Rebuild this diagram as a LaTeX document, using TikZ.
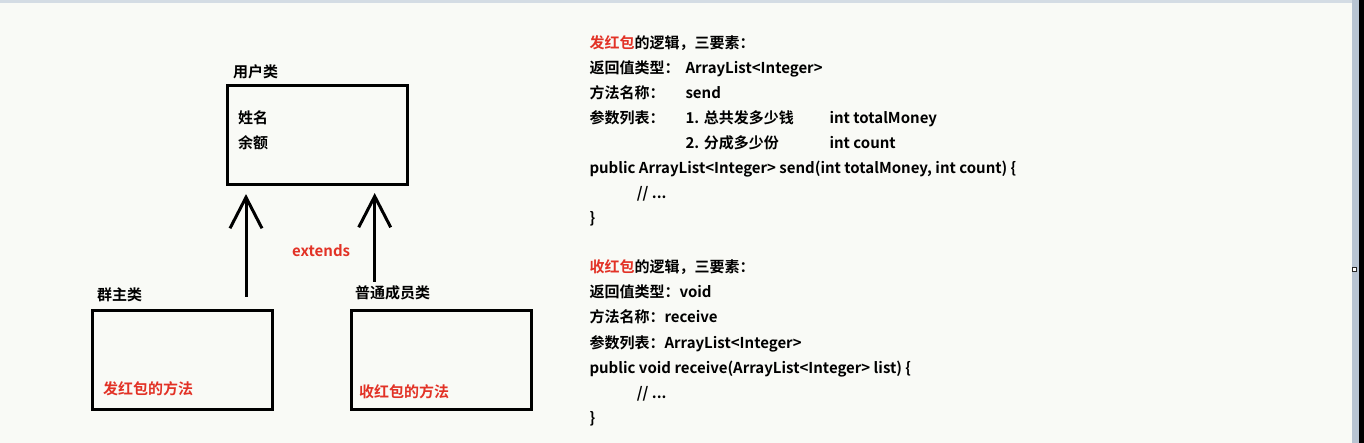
\documentclass[tikz,border=0pt]{standalone}
\usepackage{fontspec}
\setmainfont{Noto Sans CJK SC}[BoldFont={Noto Sans CJK SC Bold}]
\usetikzlibrary{arrows.meta}
\definecolor{bg}{RGB}{249,250,246}
\definecolor{hongbao}{RGB}{226,50,38}
\definecolor{chrome}{RGB}{184,196,210}

\begin{document}
\begin{tikzpicture}[x=1pt,y=-1pt,
  every node/.style={font=\fontsize{15}{18}\selectfont\bfseries, inner sep=0pt},
  txt/.style={anchor=base west},
  hb/.style={txt, text=hongbao},
  classbox/.style={draw=black, line width=3pt, minimum width=180pt, minimum height=98.5pt},
  inherit/.style={line width=3pt, -{Straight Barb[length=31pt,width=32pt,line width=3pt]}}]
\useasboundingbox (0,0) rectangle (1364,443);
\fill[bg] (0,0) rectangle (1364,443);
\fill[chrome!60] (0,0) rectangle (1352,3);
\fill[chrome] (1352,0) rectangle (1359,443);
\fill[black] (1359,0) rectangle (1364,443);
\draw[gray!30!black, fill=white, line width=0.8pt] (1352.5,267) rectangle (1356.5,271);

% class boxes
\node[classbox] (user) at (317,134.8) {};
\node[classbox] (owner) at (182,359.8) {};
\node[classbox] (member) at (441,359.8) {};
\node[txt] (userTitle) at (233,77.2) {用户类};
\node[txt] (userName) at (238,123.2) {姓名};
\node[txt] (userBalance) at (238,148.2) {余额};
\node[txt] (ownerTitle) at (97,300.5) {群主类};
\node[txt] (memberTitle) at (355,298.2) {普通成员类};
\node[hb] (ownerMethod) at (103,394.8) {发红包的方法};
\node[hb] (memberMethod) at (359,397.2) {收红包的方法};

% inheritance arrows
\coordinate (ownerTail) at (246,297);
\coordinate (memberTail) at (374.7,281.7);
\draw[inherit, shorten >=8.5pt] (ownerTail) -- (ownerTail |- user.south);
\draw[inherit, shorten >=7.5pt] (memberTail) -- (memberTail |- user.south);
\node[hb] (extends) at (292,257) {extends};

% send logic
\node[txt] (sendHead) at (589.3,49) {\textcolor{hongbao}{发红包}的逻辑，三要素：};
\node[txt] (sendRetKey) at (589.3,74) {返回值类型：};
\node[txt] (sendRet) at (685.3,74) {ArrayList<Integer>};
\node[txt] (sendNameKey) at (589.3,99) {方法名称：};
\node[txt] (sendName) at (685.3,99) {send};
\node[txt] (sendArgKey) at (589.3,124) {参数列表：};
\node[txt] (sendArgA) at (685.3,124) {1. 总共发多少钱};
\node[txt] (sendArgAType) at (829.3,124) {int totalMoney};
\node[txt] (sendArgB) at (685.3,149) {2. 分成多少份};
\node[txt] (sendArgBType) at (829.3,149) {int count};
\node[txt] (sendSig) at (589.3,174) {public ArrayList<Integer> send(int totalMoney, int count) \{};
\node[txt] (sendBody) at (636.7,199) {// ...};
\node[txt] (sendEnd) at (589.3,224) {\}};

% receive logic
\node[txt] (recvHead) at (589.3,273) {\textcolor{hongbao}{收红包}的逻辑，三要素：};
\node[txt] (recvRet) at (589.3,298) {返回值类型：void};
\node[txt] (recvName) at (589.3,323) {方法名称：receive};
\node[txt] (recvArg) at (589.3,348) {参数列表：ArrayList<Integer>};
\node[txt] (recvSig) at (589.3,373) {public void receive(ArrayList<Integer> list) \{};
\node[txt] (recvBody) at (636.7,398) {// ...};
\node[txt] (recvEnd) at (589.3,423) {\}};
\end{tikzpicture}
\end{document}
